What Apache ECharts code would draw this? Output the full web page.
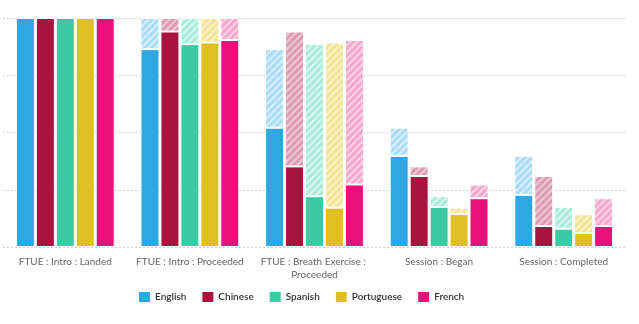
<!DOCTYPE html>
<html>
<head>
<meta charset="utf-8">
<script src="https://cdn.jsdelivr.net/npm/echarts@6/dist/echarts.min.js"></script>
<style>
  html, body { margin: 0; padding: 0; background: #fff; }
  #chart { width: 639px; height: 324px; }
</style>
</head>
<body>
<div id="chart"></div>
<script>
// Funnel steps (percent of users reaching each step, per language)
const steps = [
  'FTUE : Intro : Landed',
  'FTUE : Intro : Proceeded',
  'FTUE : Breath Exercise : Proceeded',
  'Session : Began',
  'Session : Completed'
];
const languages = ['English', 'Chinese', 'Spanish', 'Portuguese', 'French'];

const english    = [100, 86.4, 52.1, 39.8, 22.8];
const chinese    = [100, 94.1, 35.2, 31.0, 9.2];
const spanish    = [100, 88.6, 22.2, 17.5, 8.0];
const portuguese = [100, 89.3, 17.2, 14.4, 6.1];
const french     = [100, 90.4, 27.3, 21.3, 9.2];

const yTicks = [0, 25, 50, 75, 100];

const values = [english, chinese, spanish, portuguese, french];
const solidColors = ['#2ea7e2', '#a8123d', '#3dc9a3', '#e0bf21', '#e8117b'];
const hatchBase   = ['#a9dcf6', '#dc9bb0', '#a8ecd9', '#f4e496', '#f7a6cc'];
const hatchStripe = ['#d6eefb', '#ecc6d2', '#d5f6ec', '#faf1c6', '#fbd0e5'];

// Diagonal stripe fill for the drop-off segments
function stripePattern(base, stripe) {
  const s = 7;
  const c = document.createElement('canvas');
  c.width = s; c.height = s;
  const g = c.getContext('2d');
  g.fillStyle = base;
  g.fillRect(0, 0, s, s);
  g.strokeStyle = stripe;
  g.lineWidth = 2.2;
  g.beginPath();
  g.moveTo(-1, s + 1); g.lineTo(s + 1, -1);
  g.moveTo(-1, 1); g.lineTo(1, -1);
  g.moveTo(s - 1, s + 1); g.lineTo(s + 1, s - 1);
  g.stroke();
  return { image: c, repeat: 'repeat' };
}

const series = [];
languages.forEach((lang, i) => {
  const v = values[i];
  // users lost since the previous step
  const dropped = v.map((x, k) => k === 0 ? 0 : +(v[k - 1] - x).toFixed(1));
  series.push({
    name: lang,
    type: 'bar',
    stack: lang,
    barWidth: 19,
    barGap: '5%',
    data: v,
    itemStyle: { color: solidColors[i], borderColor: '#fff', borderWidth: 1 }
  });
  series.push({
    name: lang + ' drop',
    type: 'bar',
    stack: lang,
    barWidth: 19,
    barGap: '5%',
    data: dropped,
    itemStyle: { color: stripePattern(hatchBase[i], hatchStripe[i]), borderColor: '#fff', borderWidth: 1 }
  });
});

const chart = echarts.init(document.getElementById('chart'), null, { renderer: 'canvas' });
chart.setOption({
  animation: false,
  textStyle: { fontFamily: 'Lato, "Open Sans", sans-serif' },
  grid: { left: 3, right: 13, top: 18, bottom: 77, containLabel: false },
  legend: {
    data: languages.map((l, i) => ({ name: l, itemStyle: { color: solidColors[i] } })),
    left: 132,
    top: 285,
    icon: 'rect',
    itemWidth: 13,
    itemHeight: 12,
    itemGap: 14,
    textStyle: { color: '#333', fontSize: 10, fontWeight: 600, padding: [0, 0, 0, -1], fontFamily: 'Lato, "Open Sans", sans-serif' }
  },
  xAxis: {
    type: 'category',
    data: steps,
    axisLine: { show: false },
    axisTick: { show: false },
    axisLabel: {
      color: '#666',
      fontSize: 10,
      margin: 8,
      interval: 0,
      width: 122,
      overflow: 'break',
      lineHeight: 13
    }
  },
  yAxis: {
    type: 'value',
    min: yTicks[0],
    max: yTicks[yTicks.length - 1],
    interval: yTicks[1] - yTicks[0],
    axisLabel: { show: false },
    axisLine: { show: false },
    axisTick: { show: false },
    splitLine: { lineStyle: { color: '#cfcfcf', type: [2, 2], width: 1 } }
  },
  series
});
</script>
</body>
</html>
